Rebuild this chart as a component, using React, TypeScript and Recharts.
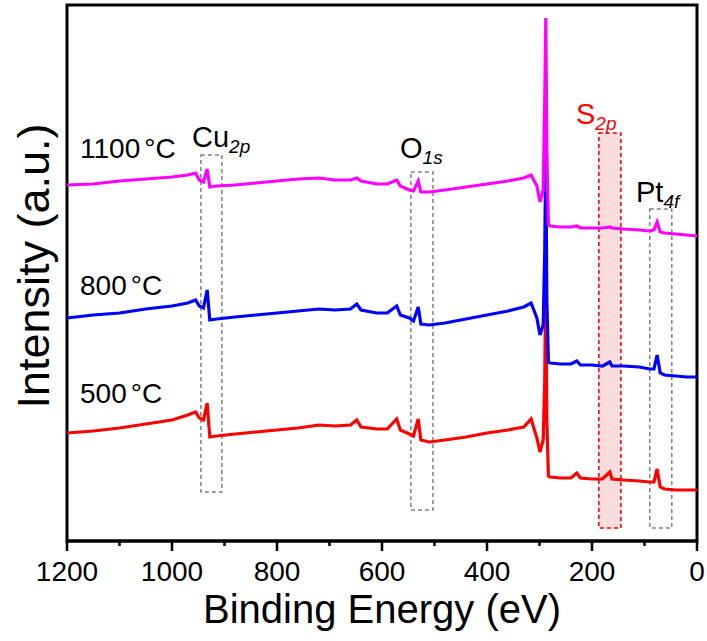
import { LineChart, Line, XAxis, YAxis, ReferenceArea } from 'recharts'

// binding energy grid (eV), shared by all three spectra
const energies = [
  1200, 1150, 1100, 1050, 1000, 970, 955, 948, 940, 933, 928, 915, 880, 840, 800, 760, 720, 690, 660, 648,
  640, 610, 590, 572, 565, 548, 540, 531, 526, 510, 480, 440, 400, 360, 330, 316, 305, 299, 293, 290,
  288, 286, 283, 280, 260, 240, 229, 222, 200, 180, 166, 162, 140, 110, 90, 82, 76, 70, 62, 40, 20, 0,
]

// intensity (a.u., offset stacked)
const t500 = [
  108, 110, 113, 117, 121, 126, 129, 123, 121, 138, 104, 105, 107, 109, 111, 113, 116, 115, 116, 121,
  114, 112, 112, 122, 111, 107, 105, 122, 101, 99, 101, 104, 108, 111, 114, 122, 103, 89, 101, 161,
  271, 121, 65, 64, 63, 63, 68, 63, 62, 62, 69, 62, 61, 60, 59, 59, 72, 54, 52, 51, 51, 51,
]
const t800 = [
  223, 226, 228, 232, 235, 238, 241, 235, 233, 251, 221, 222, 224, 226, 228, 230, 232, 231, 232, 237,
  231, 228, 228, 235, 226, 223, 220, 234, 217, 216, 218, 222, 226, 230, 234, 238, 223, 206, 216, 291,
  391, 241, 179, 178, 177, 177, 180, 176, 176, 175, 179, 175, 175, 174, 172, 172, 186, 168, 166, 165, 164, 164,
]
const t1100 = [
  356, 357, 360, 362, 364, 366, 368, 361, 359, 372, 354, 355, 356, 358, 360, 362, 363, 361, 361, 363,
  360, 357, 357, 361, 355, 351, 350, 360, 349, 349, 351, 354, 357, 360, 363, 366, 355, 339, 351, 441,
  523, 391, 317, 315, 314, 314, 315, 313, 313, 313, 314, 313, 312, 311, 310, 311, 319, 309, 308, 307, 306, 305,
]

const xTicks = [0, 100, 200, 300, 400, 500, 600, 700, 800, 900, 1000, 1100, 1200]

// peak windows: [high eV, low eV, bottom, top]
const cuBox = [945, 905, 49, 386]
const oBox = [545, 503, 31, 369]
const sBox = [187, 145, 13, 408]
const ptBox = [90, 48, 13, 332]

const data = energies.map((e, i) => ({ e, t500: t500[i], t800: t800[i], t1100: t1100[i] }))

const FONT = '"Liberation Sans", Arial, sans-serif'

function EnergyTick({ x, y, payload }: any) {
  const major = payload.value % 200 === 0
  return (
    <g>
      <line x1={x} x2={x} y1={y} y2={y + (major ? 10 : 5)} stroke="#000" strokeWidth={2.5} />
      {major && (
        <text x={x} y={y + 40} textAnchor="middle" fontSize={28} fontFamily={FONT} fill="#000">
          {payload.value}
        </text>
      )}
    </g>
  )
}

function Peak({ x, y, main, sub, color = '#000' }: any) {
  return (
    <text x={x} y={y} fontFamily={FONT} fontSize={29} fill={color}>
      {main}
      <tspan fontSize={19} fontStyle="italic" dy={6}>
        {sub}
      </tspan>
    </text>
  )
}

function Temp({ y, label }: any) {
  return (
    <text x={80} y={y} fontSize={28} fontFamily={FONT} fill="#000">
      {label}
      <tspan dx={4}>°C</tspan>
    </text>
  )
}

export default function App() {
  const box = (b: number[], stroke: string, fill: string) => (
    <ReferenceArea
      x1={b[0]}
      x2={b[1]}
      y1={b[2]}
      y2={b[3]}
      stroke={stroke}
      strokeDasharray="4 3"
      strokeWidth={1.5}
      fill={fill}
      fillOpacity={fill === 'none' ? 0 : 0.6}
      ifOverflow="visible"
    />
  )

  return (
    <div style={{ position: 'absolute', left: 0, top: 0, width: 707, height: 641, background: '#fff' }}>
      <LineChart width={707} height={641} data={data} margin={{ top: 5, right: 10, left: 67, bottom: 0 }}>
        <XAxis
          dataKey="e"
          type="number"
          domain={[0, 1200]}
          reversed
          ticks={xTicks}
          interval={0}
          height={100}
          tickSize={0}
          tickMargin={0}
          tickLine={false}
          tick={<EnergyTick />}
          axisLine={{ stroke: '#000', strokeWidth: 3 }}
        />
        <YAxis hide type="number" domain={[0, 536]} />
        {box(sBox, '#e00000', '#f8c4c4')}
        {box(cuBox, '#808080', 'none')}
        {box(oBox, '#808080', 'none')}
        {box(ptBox, '#808080', 'none')}
        <ReferenceArea x1={1200} x2={0} y1={0} y2={536} fill="none" stroke="#000" strokeWidth={3} ifOverflow="visible" />
        <Line type="linear" dataKey="t500" stroke="#ff0000" strokeWidth={3.2} dot={false} isAnimationActive={false} />
        <Line type="linear" dataKey="t800" stroke="#0000ff" strokeWidth={3.2} dot={false} isAnimationActive={false} />
        <Line type="linear" dataKey="t1100" stroke="#ff00ff" strokeWidth={3.2} dot={false} isAnimationActive={false} />
      </LineChart>
      <svg width={707} height={641} style={{ position: 'absolute', left: 0, top: 0, pointerEvents: 'none' }}>
        <text x={0} y={0} transform="translate(49,266) rotate(-90)" textAnchor="middle" fontSize={45} fontFamily={FONT} fill="#000">
          Intensity (a.u.)
        </text>
        <text x={382} y={623} textAnchor="middle" fontSize={40} fontFamily={FONT} fill="#000">
          Binding Energy (eV)
        </text>
        <Temp y={158} label="1100" />
        <Temp y={295} label="800" />
        <Temp y={403} label="500" />
        <Peak x={192} y={147} main="Cu" sub="2p" />
        <Peak x={400} y={158} main="O" sub="1s" />
        <Peak x={576} y={124} main="S" sub="2p" color="#ff0000" />
        <Peak x={636} y={202} main="Pt" sub="4f" />
      </svg>
    </div>
  )
}
